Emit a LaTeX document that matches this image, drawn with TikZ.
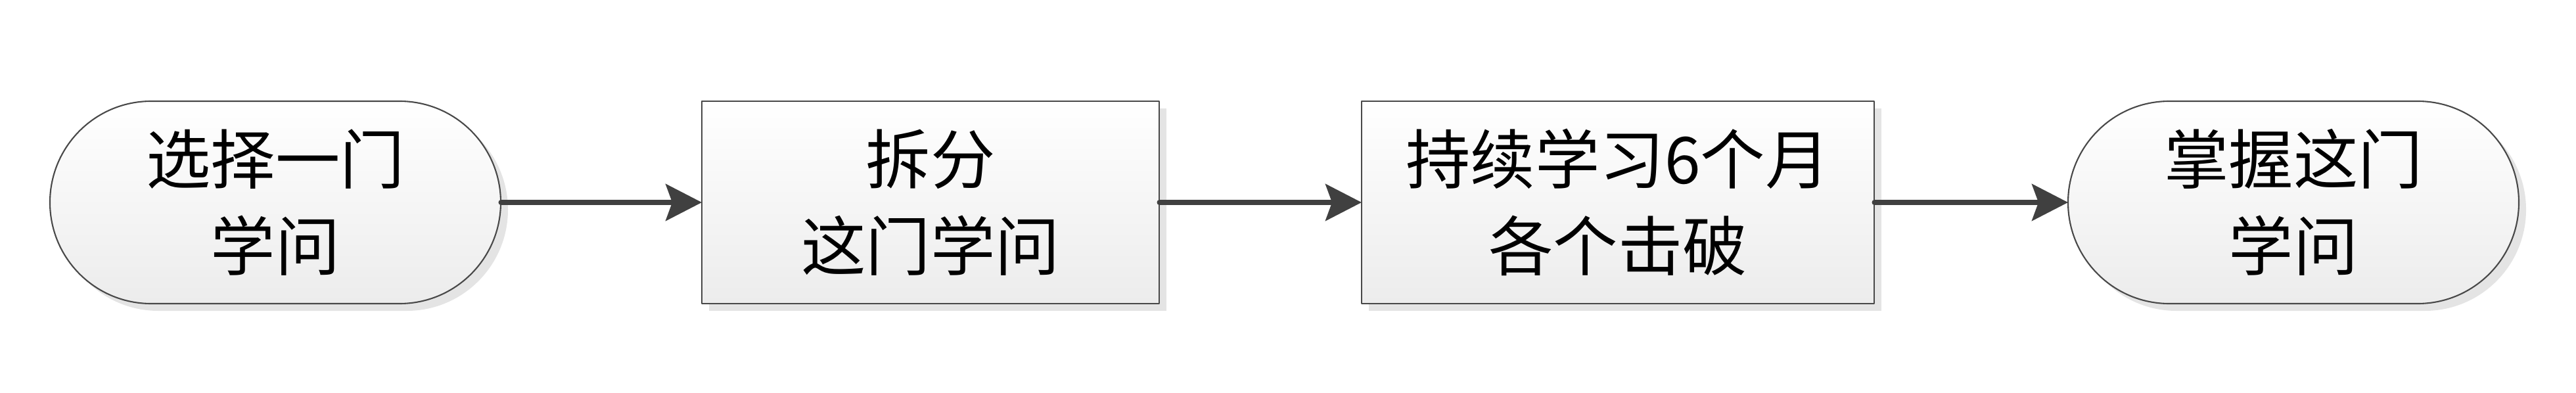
\documentclass[tikz,border=0pt]{standalone}
\usepackage{fontspec}
\newfontfamily\cjk{Noto Sans CJK SC}
\usetikzlibrary{arrows.meta,shapes.misc,shadows}

\definecolor{boxline}{HTML}{484848}
\definecolor{boxfill}{HTML}{ECECEC}
\definecolor{shadowgray}{HTML}{E4E4E4}
\definecolor{arrowgray}{HTML}{404040}

\tikzset{
  stagebox/.style={draw=boxline,line width=0.6pt,top color=white,bottom color=boxfill,
    drop shadow={shadow xshift=0.11cm,shadow yshift=-0.11cm,fill=shadowgray,opacity=1},
    minimum height=3.08cm,inner sep=0pt,outer sep=0pt,align=center,
    font=\cjk\fontsize{28}{37.5}\selectfont},
  endbox/.style={stagebox,rounded rectangle},
  flow/.style={draw=arrowgray,line width=2pt,line cap=round,
    -{Stealth[length=0.55cm,width=0.56cm,inset=0.1cm]}}
}

\begin{document}
\begin{tikzpicture}[line join=round]
  \useasboundingbox (0,0) rectangle (39.2,5.97);
  \node[endbox,minimum width=6.86cm] (choose) at (4.19,2.89) {选择一门\\学问};
  \node[stagebox,minimum width=6.96cm] (split) at (14.16,2.89) {拆分\\这门学问};
  \node[stagebox,minimum width=7.80cm] (study) at (24.62,2.89) {持续学习6个月\\各个击破};
  \node[endbox,minimum width=6.86cm] (master) at (34.90,2.89) {掌握这门\\学问};
  \draw[flow] (choose.east) -- (split.west);
  \draw[flow] (split.east) -- (study.west);
  \draw[flow] (study.east) -- (master.west);
\end{tikzpicture}
\end{document}
